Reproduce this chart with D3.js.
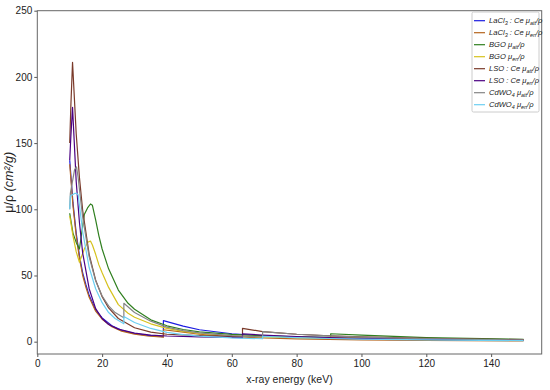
<!DOCTYPE html>
<html>
<head>
<meta charset="utf-8">
<script src="https://cdn.jsdelivr.net/npm/d3@7/dist/d3.min.js"></script>
<style>
  body { margin: 0; background: #fff; }
  svg { display: block; font-family: "Liberation Sans", Arial, sans-serif; }
  .axis path { display: none; }
  .axis line { stroke: #555; }
  .axis text { fill: #222; font-size: 10px; }
</style>
</head>
<body>
<div id="chart"></div>
<script>
// values (keV, cm^2/g)
const energyLaCl3 = [10, 11, 12, 13, 14, 15, 16, 18, 20, 23, 26, 30, 34, 38.9, 38.9, 45, 50, 60, 70, 80, 100, 120, 150];
const lacl3Att   = [137, 105, 82, 65, 52, 43, 35, 24, 18, 12, 8.6, 6.2, 4.8, 3.8, 15.9, 11.8, 9.0, 6.0, 4.3, 3.3, 2.0, 1.4, 0.9];
const lacl3En    = [134, 103, 80, 63, 50, 41, 33.5, 23, 17, 11.3, 8.0, 5.7, 4.3, 3.4, 9.0, 7.2, 5.6, 3.8, 2.8, 2.1, 1.3, 0.9, 0.6];

const energyBGO = [10, 11, 12, 13, 14.5, 15.5, 16.4, 17, 18, 19, 20, 22, 25, 28, 30, 35, 40, 45, 50, 60, 70, 80, 90.5, 90.5, 100, 120, 150];
const bgoAtt    = [97, 82, 75, 70, 96, 101, 104, 103, 92, 80, 70, 55, 39, 29, 24.5, 16.5, 12, 9.2, 7.4, 5.5, 4.4, 3.7, 3.2, 6.0, 4.9, 3.1, 1.8];
const bgoEn     = [95, 80, 68, 60, 70, 75, 76, 73, 66, 58, 52, 41, 28, 21.5, 18.5, 13.5, 10, 7.8, 6.2, 4.5, 3.6, 3.0, 2.5, 3.6, 3.0, 2.0, 1.2];

const energyLSO = [10, 10.35, 10.87, 12, 13, 14, 16, 18, 20, 22, 25, 30, 35, 40, 50, 63.3, 63.3, 69.5, 80, 90, 100, 120, 150];
const lsoAtt    = [150, 178, 211, 157, 124, 99, 66, 46.5, 34, 25.5, 17.5, 10.5, 7.2, 5.6, 4.6, 3.8, 10.1, 7.6, 5.6, 4.5, 3.7, 2.6, 1.5];
const lsoEn     = [137, 155, 177, 121, 90, 67, 40, 25, 17.5, 13, 9.5, 6.5, 5.0, 4.3, 3.6, 3.0, 6.0, 5.0, 3.8, 3.1, 2.5, 1.7, 1.0];

const energyCdWO4 = [10, 10.2, 11.5, 12.1, 12.6, 13, 14, 16, 18, 20, 22, 24, 26.7, 26.7, 30, 35, 40, 45, 50, 60, 69.5, 69.5, 80, 90, 100, 120, 150];
const cdwo4Att    = [100, 112, 130, 132, 124, 115, 94, 64, 46, 34.5, 27, 22, 18, 29, 22, 15.5, 11, 8.3, 6.6, 4.6, 3.6, 7.6, 5.6, 4.4, 3.5, 2.3, 1.3];
const cdwo4En     = [100, 110, 112, 112, 111, 103, 83, 56, 40, 29.5, 22, 17.5, 13.5, 19, 14.5, 10, 7, 5.3, 4.2, 2.9, 2.2, 4.0, 3.0, 2.4, 1.9, 1.3, 0.8];

const legendLabels = [
  "LaCl_{3} : Ce μ_{att}/ρ", "LaCl_{3} : Ce μ_{en}/ρ",
  "BGO μ_{att}/ρ", "BGO μ_{en}/ρ",
  "LSO : Ce μ_{att}/ρ", "LSO : Ce μ_{en}/ρ",
  "CdWO_{4} μ_{att}/ρ", "CdWO_{4} μ_{en}/ρ"
];
const xTicks = [0, 20, 40, 60, 80, 100, 120, 140];
const yTicks = [0, 50, 100, 150, 200, 250];

const colors = ["#1c1ce0", "#b5651d", "#2f7f1f", "#d6c21e", "#7a3a2a", "#4b0082", "#858585", "#6ccff2"];
const xs = [energyLaCl3, energyLaCl3, energyBGO, energyBGO, energyLSO, energyLSO, energyCdWO4, energyCdWO4];
const ys = [lacl3Att, lacl3En, bgoAtt, bgoEn, lsoAtt, lsoEn, cdwo4Att, cdwo4En];

const series = ys.map((vals, i) => ({
  label: legendLabels[i],
  color: colors[i],
  points: vals.map((v, j) => ({ x: xs[i][j], y: v }))
}));

const width = 550, height = 390;
const plotLeft = 37.3, plotRight = 541.7, plotTop = 10.7, plotBottom = 354;

const xScale = d3.scaleLinear().domain([0, 155.6]).range([plotLeft, plotRight]);
const yScale = d3.scaleLinear().domain([-9.3, 250]).range([plotBottom, plotTop]);

const svg = d3.select('#chart').append('svg')
  .attr('width', width)
  .attr('height', height);

const line = d3.line()
  .x(d => xScale(d.x))
  .y(d => yScale(d.y));

svg.append('g')
  .selectAll('path')
  .data(series)
  .enter()
  .append('path')
  .attr('d', d => line(d.points))
  .attr('fill', 'none')
  .attr('stroke', d => d.color)
  .attr('stroke-width', 1.2)
  .attr('stroke-linejoin', 'round');

svg.append('g')
  .attr('class', 'axis')
  .attr('transform', `translate(0,${plotBottom})`)
  .call(d3.axisBottom(xScale).tickValues(xTicks).tickSize(3).tickPadding(3));

svg.append('g')
  .attr('class', 'axis')
  .attr('transform', `translate(${plotLeft},0)`)
  .call(d3.axisLeft(yScale).tickValues(yTicks).tickSize(3).tickPadding(2));

svg.append('rect')
  .attr('x', plotLeft)
  .attr('y', plotTop)
  .attr('width', plotRight - plotLeft)
  .attr('height', plotBottom - plotTop)
  .attr('fill', 'none')
  .attr('stroke', '#666')
  .attr('stroke-width', 1);

svg.append('text')
  .attr('x', (plotLeft + plotRight) / 2)
  .attr('y', 383)
  .attr('text-anchor', 'middle')
  .attr('font-size', 10.5)
  .attr('fill', '#222')
  .text('x-ray energy (keV)');

const yLabel = svg.append('text')
  .attr('transform', `translate(13,${(plotTop + plotBottom) / 2}) rotate(-90)`)
  .attr('text-anchor', 'middle')
  .attr('font-size', 12.5)
  .attr('fill', '#222');
yLabel.append('tspan').text('μ/ρ ');
yLabel.append('tspan').attr('font-style', 'italic').text('(cm²/g)');

// legend
const legend = svg.append('g').attr('transform', 'translate(472,12)');
legend.append('rect')
  .attr('width', 67)
  .attr('height', 100)
  .attr('rx', 1.5)
  .attr('fill', '#fff')
  .attr('stroke', '#ccc');

const rows = legend.selectAll('g.row')
  .data(series)
  .enter()
  .append('g')
  .attr('class', 'row')
  .attr('transform', (d, i) => `translate(0,${8.7 + i * 12})`);

rows.append('line')
  .attr('x1', 2).attr('x2', 13)
  .attr('stroke', d => d.color)
  .attr('stroke-width', 1.2);

rows.append('text')
  .attr('x', 17)
  .attr('y', 2.7)
  .attr('font-size', 7.6)
  .attr('font-style', 'italic')
  .attr('fill', '#222')
  .each(function(d) {
    const t = d3.select(this);
    let shifted = false;
    d.label.split(/(_\{[^}]*\})/).filter(s => s.length).forEach(part => {
      if (part.startsWith('_{')) {
        t.append('tspan').attr('dy', 1.5).attr('font-size', 5.4).text(part.slice(2, -1));
        shifted = true;
      } else {
        t.append('tspan').attr('dy', shifted ? -1.5 : 0).text(part);
        shifted = false;
      }
    });
  });
</script>
</body>
</html>
